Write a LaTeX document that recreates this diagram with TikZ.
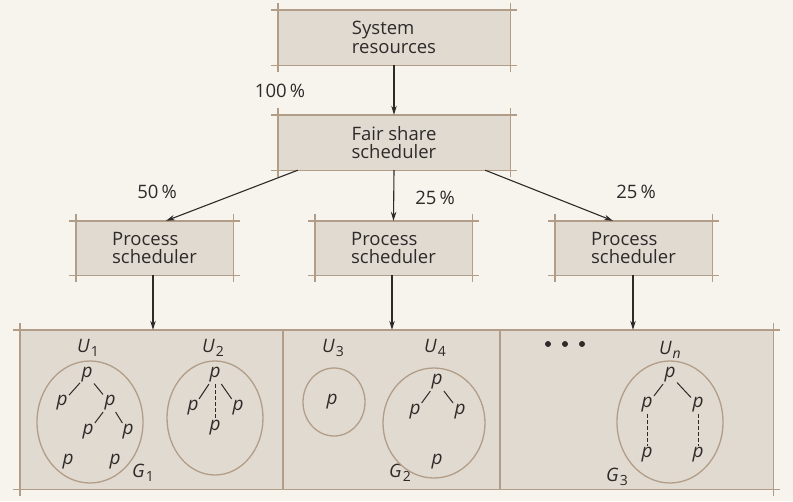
\documentclass[tikz,border=0pt]{standalone}
\usepackage{fontspec}
\setmainfont{Open Sans}
\usetikzlibrary{arrows.meta}
\definecolor{paper}{RGB}{247,243,237}
\definecolor{boxfill}{RGB}{225,218,208}
\definecolor{boxline}{RGB}{178,158,136}
\definecolor{ink}{RGB}{45,42,42}
\tikzset{
  sched/.style={fill=boxfill, minimum width=232pt, minimum height=55pt, inner sep=0pt, align=left, text=ink, font=\fontsize{18.5}{18.5}\selectfont},
  psched/.style={sched, minimum width=157pt, minimum height=54pt},
  flow/.style={draw=ink, line width=1.1pt, -{Stealth[length=9pt,width=5.5pt]}},
  tie/.style={draw=ink, line width=1pt, shorten <=0.5pt, shorten >=0.5pt},
  loosetie/.style={tie, dash pattern=on 4pt off 2pt},
  grp/.style={draw=boxline, line width=1.3pt},
  pnode/.style={font=\fontsize{19}{19}\selectfont\itshape, text=ink, inner sep=1pt},
  lbl/.style={font=\fontsize{18.5}{18.5}\selectfont, text=ink},
}
\newcommand{\cropframe}[1]{%
  \draw[boxline, line width=1.4pt, shorten <=-7pt, shorten >=-7pt] (#1.north west) -- (#1.north east);
  \draw[boxline, line width=1.4pt, shorten <=-7pt, shorten >=-7pt] (#1.south west) -- (#1.south east);
  \draw[boxline, line width=1.4pt, shorten <=-7pt, shorten >=-7pt] (#1.north west) -- (#1.south west);
  \draw[boxline, line width=1.4pt, shorten <=-7pt, shorten >=-7pt] (#1.north east) -- (#1.south east);
}
\newcommand{\uname}[1]{{\itshape U}\kern1pt\raisebox{-3.5pt}{\fontsize{14}{14}\selectfont #1}}
\newcommand{\gname}[1]{{\itshape G}\kern1pt\raisebox{-3.5pt}{\fontsize{14}{14}\selectfont #1}}
\begin{document}
\begin{tikzpicture}[x=1pt, y=-1pt]
        \fill[paper] (0,0) rectangle (793,501);
        % schedulers
        \node[sched] (sys) at (394,37.5) {System\\resources};
        \node[sched] (fss) at (394,142.5) {Fair share\\scheduler};
        \node[psched] (ps1) at (154.5,248) {Process\\scheduler};
        \node[psched] (ps2) at (393.5,248) {Process\\scheduler};
        \node[psched] (ps3) at (633.5,248) {Process\\scheduler};
        \node[fill=boxfill, minimum width=753pt, minimum height=159pt, inner sep=0pt] (panel) at (396.5,409.5) {};
        \cropframe{sys}
        \cropframe{fss}
        \cropframe{ps1}
        \cropframe{ps2}
        \cropframe{ps3}
        \cropframe{panel}
        \draw[boxline, line width=1.4pt] (283,330) -- (283,489);
        \draw[boxline, line width=1.4pt] (500,330) -- (500,489);
        % shares
        \node[lbl] (p100) at (280,91) {100\,\%};
        \node[lbl] (p50) at (157,192) {50\,\%};
        \node[lbl] (p25a) at (435,198) {25\,\%};
        \node[lbl] (p25b) at (636,192) {25\,\%};
        \draw[flow] (sys.south) -- (fss.north);
        \draw[flow] ([xshift=20pt]fss.south west) -- ([xshift=11.5pt]ps1.north);
        \draw[flow] (fss.south) -- (ps2.north);
        \draw[flow] ([xshift=-25pt]fss.south east) -- ([xshift=-20.5pt]ps3.north);
        \draw[flow] ([xshift=-1.5pt]ps1.south) -- ([xshift=-1.5pt]ps1.south |- panel.north);
        \draw[flow] ([xshift=-1.5pt]ps2.south) -- ([xshift=-1.5pt]ps2.south |- panel.north);
        \draw[flow] ([xshift=-0.5pt]ps3.south) -- ([xshift=-0.5pt]ps3.south |- panel.north);
        % users
        \node[lbl] (u1) at (88,348) {\uname{1}};
        \node[lbl] (u2) at (213,348) {\uname{2}};
        \node[lbl] (u3) at (333,348) {\uname{3}};
        \node[lbl] (u4) at (435,348) {\uname{4}};
        \node[lbl] (un) at (670,350) {\uname{\itshape n}};
        \node[lbl] (g1) at (143,473) {\gname{1}};
        \node[lbl] (g2) at (400,473) {\gname{2}};
        \node[lbl] (g3) at (617,477) {\gname{3}};
        \draw[grp] (90,422) ellipse [x radius=53pt, y radius=61pt];
        \draw[grp] (215,418) ellipse [x radius=48pt, y radius=57pt];
        \draw[grp] (334,402) ellipse [x radius=31pt, y radius=34pt];
        \draw[grp] (434,423) ellipse [x radius=51pt, y radius=55pt];
        \draw[grp] (670,422) ellipse [x radius=53pt, y radius=61pt];
        \fill[ink] (548,344) circle (3pt);
        \fill[ink] (565,344) circle (3pt);
        \fill[ink] (582,344) circle (3pt);
        % processes
        \node[pnode] (a1) at (87,375) {p};
        \node[pnode] (a2) at (62,403) {p};
        \node[pnode] (a3) at (110,403) {p};
        \node[pnode] (a4) at (88,432) {p};
        \node[pnode] (a5) at (128,432) {p};
        \node[pnode] (a6) at (68,462) {p};
        \node[pnode] (a7) at (115,462) {p};
        \draw[tie] (a1) -- (a2);
        \draw[tie] (a1) -- (a3);
        \draw[tie] (a3) -- (a4);
        \draw[tie] (a3) -- (a5);
        \node[pnode] (b1) at (215,375) {p};
        \node[pnode] (b2) at (193,408) {p};
        \node[pnode] (b3) at (238,408) {p};
        \node[pnode] (b4) at (215,428) {p};
        \draw[tie] (b1) -- (b2);
        \draw[tie] (b1) -- (b3);
        \draw[loosetie] (b1) -- (b4);
        \node[pnode] (c1) at (332,402) {p};
        \node[pnode] (d1) at (437,382) {p};
        \node[pnode] (d2) at (415,412) {p};
        \node[pnode] (d3) at (460,412) {p};
        \node[pnode] (d4) at (437,462) {p};
        \draw[tie] (d1) -- (d2);
        \draw[tie] (d1) -- (d3);
        \node[pnode] (e1) at (670,375) {p};
        \node[pnode] (e2) at (647,405) {p};
        \node[pnode] (e3) at (698,405) {p};
        \node[pnode] (e4) at (647,455) {p};
        \node[pnode] (e5) at (698,455) {p};
        \draw[tie] (e1) -- (e2);
        \draw[tie] (e1) -- (e3);
        \draw[loosetie] (e2) -- (e4);
        \draw[loosetie] (e3) -- (e5);
\end{tikzpicture}
\end{document}
